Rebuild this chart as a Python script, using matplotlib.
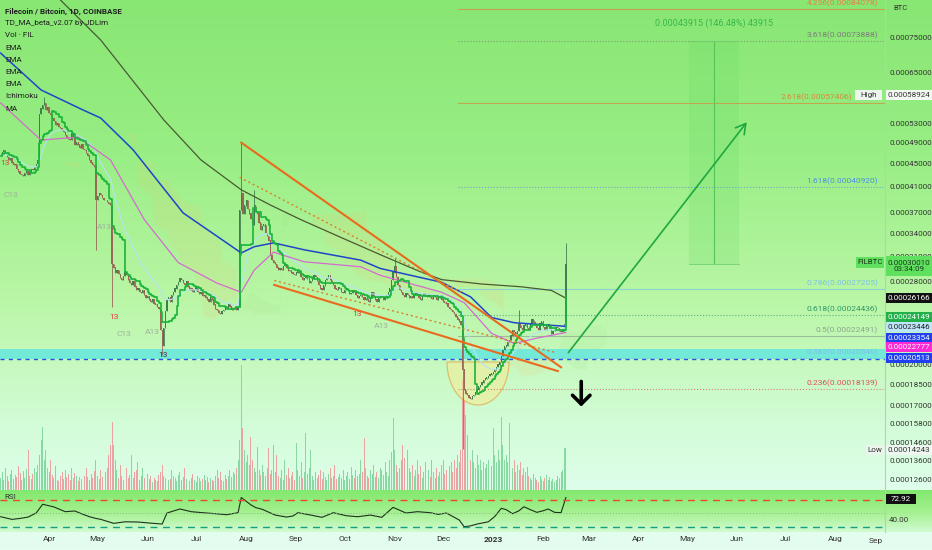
import numpy as np
import pandas as pd
import matplotlib
matplotlib.use('Agg')
import matplotlib.pyplot as plt
import matplotlib.dates as mdates
from matplotlib.patches import Rectangle, Polygon
from matplotlib.ticker import NullLocator

plt.rcParams['font.family'] = ['Roboto', 'DejaVu Sans']

W, H = 932, 550          # figure size in px
PW, PH = 885, 490        # price pane size in px
U = 1e-6                 # price values below are in 1e-6 BTC

start = pd.Timestamp('2022-03-02')

# daily closes (1e-6 BTC)
close = [
    465, 472, 476, 470, 462, 457, 460, 452, 448, 450, 441, 436, 432, 430, 428, 433, 436, 430, 435, 440, 438, 444, 450, 457,
    550, 562, 570, 575, 559, 565, 552, 548, 540, 535, 526, 530, 522, 520, 515, 512, 505, 500, 497, 495, 510, 500, 485, 490,
    486, 480, 486, 478, 476, 470, 465, 457, 452, 448, 445,
    389, 395, 400, 397, 392, 388, 389, 385, 383, 381,
    300, 296, 290, 293, 288, 284, 281, 286, 290, 287, 282, 278, 276, 280, 274, 270, 272, 268, 267, 270,
    265, 262, 264, 260, 258, 260, 256, 255, 252, 250,
    230, 216, 232, 248, 260, 262, 258, 265, 268, 272, 276, 279, 283, 281, 278, 276, 280, 274, 270, 272,
    268, 270, 273, 268, 266, 268, 264, 265, 262, 260, 258, 262, 260, 255, 250, 249, 246, 245, 248, 249,
    252, 250, 255, 253, 249, 250, 251, 249, 252,
    373, 400, 368, 380, 389, 375, 368, 360, 352, 380, 372, 368, 355, 345, 350, 352, 340, 336, 330,
    311, 305, 302, 300, 296, 293, 295, 293, 298, 300, 296, 292, 293, 290, 288, 287, 290, 292, 290, 285,
    281, 284, 287, 283, 278, 280, 283, 287, 285, 280, 276, 272, 270, 275, 281, 284, 287, 282, 279, 276,
    272, 270, 273, 272, 268, 267, 270, 272, 270, 266, 267, 270, 268, 265, 262, 264, 265, 263, 260, 262,
    260, 258, 262, 268, 264, 260, 258, 262, 265, 263, 260, 263, 265, 268, 272, 281, 290,
    298, 285, 276, 270, 268, 265, 263, 267, 265, 262, 264, 262, 265, 268, 266, 262, 260, 264, 267, 265,
    263, 266, 263, 261, 265, 263, 260, 262, 265, 260, 258, 257, 256, 252, 250, 249, 247, 245, 243, 240,
    238, 235,
    196, 181, 178, 177, 175, 174, 176, 177, 179, 181, 183, 184, 186, 188, 189, 190, 191, 192, 193, 194,
    196, 198, 200, 202, 207, 212, 215, 216, 219, 221, 225, 230, 228, 226, 229, 235, 232, 230, 234, 235,
    232, 230, 236, 240, 237, 235, 232, 230, 236, 238, 233, 230, 234, 235, 231, 226, 229, 230, 233, 232,
    229, 228, 231, 235, 300,
]

# long wicks (day index, price)
high_days = [27, 149, 157, 244, 321, 350]
high_vals = [589.24, 490, 405, 308, 249, 327]
low_days = [59, 69, 100, 286]
low_vals = [318, 253, 208, 142.43]

# volume (scaled units)
volume = [
    12, 18, 10, 22, 14, 9, 16, 20, 11, 15, 13, 24, 17, 10, 19, 12, 21, 40, 14, 11,
    16, 22, 18, 25, 35, 50, 63, 30, 40, 22, 18, 30, 15, 12, 24, 10, 9, 14, 18, 11,
    20, 13, 16, 10, 22, 12, 17, 14, 9, 13, 11, 18, 14, 22, 13, 10, 16, 12, 19, 30,
    14, 11, 20, 13, 25, 18, 22, 35, 45, 68, 45, 30, 20, 12, 25, 14, 10, 18, 22, 12,
    15, 35, 12, 18, 20, 28, 10, 14, 22, 12, 9, 16, 11, 14, 8, 12, 10, 9, 15, 18,
    25, 14, 12, 16, 10, 11, 20, 14, 12, 9, 15, 18, 10, 13, 22, 11, 14, 9, 12, 16,
    10, 8, 14, 12, 9, 11, 15, 10, 13, 8, 12, 10, 9, 14, 20, 12, 18, 10, 9, 15,
    11, 14, 20, 13, 18, 16, 22, 30, 50, 125, 62, 40, 28, 35, 25, 53, 30, 22, 18, 43,
    20, 15, 25, 18, 14, 22, 42, 16, 20, 45, 18, 35, 14, 12, 20, 10, 30, 15, 22, 12,
    14, 18, 10, 47, 20, 14, 28, 12, 18, 57, 16, 22, 40, 14, 10, 18, 12, 15, 20, 11,
    18, 13, 10, 16, 22, 12, 14, 25, 11, 13, 16, 12, 20, 10, 14, 18, 11, 23, 15, 12,
    20, 14, 16, 30, 18, 52, 22, 14, 12, 20, 16, 25, 13, 18, 12, 22, 20, 15, 28, 18,
    14, 30, 38, 72, 40, 25, 18, 22, 30, 45, 32, 87, 40, 22, 18, 25, 14, 20, 30, 16,
    24, 12, 18, 28, 15, 20, 13, 30, 18, 12, 22, 14, 18, 25, 30, 16, 20, 53, 24, 28,
    18, 30, 22, 35, 28, 40, 110, 90, 75, 55, 45, 30, 40, 28, 22, 35, 25, 30, 20, 28,
    22, 26, 30, 38, 24, 62, 35, 28, 40, 30, 73, 45, 30, 35, 28, 67, 40, 22, 30, 18,
    25, 20, 28, 15, 22, 18, 23, 14, 12, 10, 16, 12, 10, 8, 14, 11, 9, 12, 15, 10,
    13, 9, 11, 8, 10, 14, 12, 18, 20, 42, 42,
]

# moving averages (day index, price)
ma200_day = [0, 37, 62, 101, 124, 149, 167, 186, 211, 236, 260, 273, 298, 322, 341, 350]
ma200_val = [1109, 871, 741, 537, 457, 405, 381, 359, 334, 311, 291, 282, 277, 274, 270, 261.66]
ema_blue_day = [0, 25, 51, 62, 82, 113, 149, 157, 169, 188, 223, 235, 273, 291, 304, 318, 350]
ema_blue_val = [703, 606, 559, 541, 476, 369, 314, 322, 327, 318, 305, 295, 279, 263, 242, 237, 233.54]
ema_pink_day = [0, 25, 48, 68, 89, 110, 134, 149, 157, 169, 188, 223, 235, 273, 287, 304, 318, 333, 350]
ema_pink_val = [575, 495, 501, 457, 359, 302, 278, 268, 293, 315, 303, 297, 287, 268, 257, 227, 218, 223, 227.77]

# RSI (day index, value)
rsi_day = [0, 7, 12, 17, 22, 26, 33, 40, 46, 50, 55, 59, 62, 70, 77, 85, 93, 100, 103, 111, 118, 125,
           133, 140, 147, 149, 155, 158, 162, 170, 177, 181, 184, 192, 199, 206, 214, 221, 229, 236,
           243, 251, 258, 266, 271, 276, 284, 287, 291, 295, 302, 306, 310, 313, 317, 321, 324, 328,
           332, 336, 339, 343, 347, 350]
rsi_val = [44.5, 40.6, 42, 44, 50, 63, 59, 52, 53, 49, 44.5, 42, 40.6, 34.7, 37, 36.7, 35, 33.7, 50, 56,
           52, 50.5, 49, 47.5, 50.5, 73, 62, 58, 55.5, 47, 44, 45.6, 50.5, 47, 43.6, 50.5, 46, 44.5,
           47, 43.6, 58.4, 50, 52, 50.5, 48, 50, 39.6, 29.7, 31, 33.7, 37, 45, 57, 55, 49, 53.4, 59.3,
           55, 51, 53.4, 56, 51, 50.5, 72.92]

# drawings (day index, price)
trend_upper = [(149, 490), (347, 198)]
trend_lower = [(169.4, 276), (345, 195)]
dotted_upper = [(148, 426), (285, 268)]
dotted_lower = [(169.4, 281), (344, 210)]
arrow_up = [(351.5, 210), (462, 532)]
arrow_down = [(359.5, 187), (359.5, 169)]
support_band = (205.13, 213.5)
measure_days = (426.4, 457.3)
measure_range = (300.10, 739.25)

fib_start_day = 283
fib_ratio = ['4.236', '3.618', '2.618', '1.618', '0.786', '0.618', '0.5', '0.382', '0.236']
fib_price = [840.78, 738.88, 574.06, 409.20, 272.05, 244.36, 224.91, 205.46, 181.39]
fib_color = ['#e0844a', '#7c7c7c', '#d98a3a', '#4f8ee0', '#7cc2ea', '#2f9a68', '#8aa68e', '#7cc2ea', '#e0505a']
fib_style = ['-', ':', '-', ':', '-', ':', '-', ':', ':']

td_day = [2.5, 6.6, 64, 70, 76.5, 94, 100.7, 220.8, 235.7]
td_price = [451, 396, 349, 243, 226, 228, 208, 245, 234]
td_text = ['13', 'C13', 'A13', '13', 'C13', 'A13', '13', '13', 'A13']
td_color = ['#e23c3c', '#9fb09f', '#9fb09f', '#e23c3c', '#9fb09f', '#9fb09f', '#3a3a3a', '#e23c3c', '#9fb09f']

ytick_vals = [750, 650, 530, 490, 450, 410, 370, 340, 310, 280, 200, 185, 170, 158, 146, 136, 126]

legend_lines = ['Filecoin / Bitcoin, 1D, COINBASE', 'TD_MA_beta_v2.07 by JDLim', 'Vol · FIL',
                'EMA', 'EMA', 'EMA', 'EMA', 'Ichimoku', 'MA']

# ---------------- derived series ----------------
c = np.array(close, dtype=float)
n = len(c)
o = np.r_[c[0], c[:-1]]
hi = np.maximum(o, c)
lo = np.minimum(o, c)
hi[high_days] = np.maximum(hi[high_days], high_vals)
lo[low_days] = np.minimum(lo[low_days], low_vals)
x0 = mdates.date2num(start)
xd = x0 + np.arange(n)
up = c >= o

cs = pd.Series(c)
ema21 = cs.ewm(span=21, adjust=False).mean().values
step_line = ((cs.rolling(9, min_periods=1).max() + cs.rolling(9, min_periods=1).min()) / 2).values
hs, ls = pd.Series(hi), pd.Series(lo)
tenkan = (hs.rolling(9, min_periods=1).max() + ls.rolling(9, min_periods=1).min()) / 2
kijun = (hs.rolling(26, min_periods=1).max() + ls.rolling(26, min_periods=1).min()) / 2
span_a = ((tenkan + kijun) / 2).values
span_b = ((hs.rolling(52, min_periods=1).max() + ls.rolling(52, min_periods=1).min()) / 2).values

# ---------------- figure ----------------
fig = plt.figure(figsize=(W / 100, H / 100), dpi=100)


def fx(px):
    return px / W


def fy(py):
    return 1 - py / H


# background gradient (whole figure)
rows = np.arange(H)
stops_y = [0, 150, 300, 420, 489, 490, 512, 531, 532, 549]
stops_c = np.array([
    (136, 230, 115), (152, 238, 132), (186, 246, 166), (210, 252, 214), (222, 254, 234),
    (130, 232, 110), (165, 241, 145), (208, 250, 208), (226, 252, 238), (228, 253, 240)
]) / 255.0
grad = np.stack([np.interp(rows, stops_y, stops_c[:, k]) for k in range(3)], axis=-1)[:, None, :]
bg = fig.add_axes([0, 0, 1, 1])
bg.imshow(grad, aspect='auto', extent=[0, 1, 0, 1], origin='upper')
bg.set_axis_off()
bg.set_zorder(-10)

ax = fig.add_axes([0, fy(PH), fx(PW), PH / H])
rax = fig.add_axes([0, fy(532), fx(PW), 42 / H], sharex=ax)
vax = ax.twinx()
ax.set_zorder(3)
vax.set_zorder(2)
rax.set_zorder(3)
for a in (ax, vax, rax):
    a.patch.set_visible(False)

ax.set_yscale('log')
xl = x0 - 0.4
xr = xl + PW / 1.615
ax.set_xlim(xl, xr)
ax.set_ylim(120.7 * U, 871 * U)

# volume
vcol = np.where(up, '#86d9a0', '#eaa3a3')
vax.bar(xd, volume, width=0.6, color=vcol, linewidth=0)
vax.set_ylim(0, PH)
vax.set_yticks([])
for s in vax.spines.values():
    s.set_visible(False)

# ichimoku cloud (shifted 26 days forward)
xc = xd + 26
ax.fill_between(xc, span_a * U, span_b * U, where=span_a < span_b, color='#f2c46d', alpha=0.14,
                linewidth=0, zorder=1)
ax.fill_between(xc, span_a * U, span_b * U, where=span_a >= span_b, color='#9fe08a', alpha=0.14,
                linewidth=0, zorder=1)

# cup drawing (half ellipse, px geometry)
t = np.linspace(np.pi, 2 * np.pi, 60)
cup_px = np.c_[478 + 31 * np.cos(t), 362 - 43 * np.sin(t)]
cup = Polygon(np.c_[cup_px[:, 0] / PW, 1 - cup_px[:, 1] / PH], closed=True, transform=ax.transAxes,
              facecolor='#f3ec98', edgecolor='#e39a3a', alpha=0.6, lw=0.9, zorder=1.5)
ax.add_patch(cup)

# support band + dashed line
ax.axhspan(support_band[0] * U, support_band[1] * U, color='#5fe6df', alpha=0.8, lw=0, zorder=1.8)
ax.axhline(support_band[0] * U, color='#2a50e0', lw=1.0, dashes=(3, 3), zorder=2)

# fib levels
for r, p, col, ls_ in zip(fib_ratio, fib_price, fib_color, fib_style):
    ax.plot([x0 + fib_start_day, xr], [p * U, p * U], color=col, lw=0.8, ls=ls_, alpha=0.7, zorder=2)
    off = -33 if r == '2.618' else -7
    ax.annotate(f'{r}({p * U:.8f})', xy=(xr, p * U), xytext=(off, 2), textcoords='offset pixels',
                ha='right', va='bottom', fontsize=6, color=col, zorder=2)

# measurement box
mx0, mx1 = x0 + measure_days[0], x0 + measure_days[1]
ax.add_patch(Rectangle((mx0, measure_range[0] * U), mx1 - mx0, (measure_range[1] - measure_range[0]) * U,
                       facecolor='#5fd45f', alpha=0.18, lw=0, zorder=1.6))
mxc = (mx0 + mx1) / 2
ax.plot([mxc, mxc], [measure_range[0] * U, measure_range[1] * U], color='#56c456', lw=0.8, zorder=2)
ax.plot([mx0, mx1], [measure_range[0] * U] * 2, color='#6fcf6f', lw=0.6, zorder=2)
ax.plot([mx0, mx1], [measure_range[1] * U] * 2, color='#6fcf6f', lw=0.6, zorder=2)
ax.annotate('0.00043915 (146.48%) 43915', xy=(mxc, measure_range[1] * U), xytext=(0, 13),
            textcoords='offset pixels', ha='center', va='bottom', fontsize=6.5, color='#36b84a')

# moving averages
ax.plot(x0 + np.array(ma200_day), np.array(ma200_val) * U, color='#4a5a32', lw=0.9, zorder=3.5)
ax.plot(x0 + np.array(ema_blue_day), np.array(ema_blue_val) * U, color='#2046c8', lw=1.1, zorder=3.5)
ax.plot(x0 + np.array(ema_pink_day), np.array(ema_pink_val) * U, color='#d66ad0', lw=0.9, zorder=3.5)
ax.plot(xd, ema21 * U, color='#b4e4f4', lw=0.8, zorder=3.4)
ax.plot(xd, step_line * U, color='#19b43a', lw=1.2, drawstyle='steps-post', zorder=3.6)

# candles
ccol = np.where(up, '#3f7f50', '#9a6656')
ax.vlines(xd, lo * U, hi * U, colors=ccol, lw=0.6, zorder=3)
ax.bar(xd, (np.abs(c - o) + 0.4) * U, bottom=np.minimum(o, c) * U, width=0.75, color=ccol,
       linewidth=0, zorder=3)

# trend lines
for seg, kw in ((trend_upper, dict(color='#ea6a1e', lw=1.5)),
                (trend_lower, dict(color='#ea6a1e', lw=1.5)),
                (dotted_upper, dict(color='#d9822b', lw=1.0, ls=(0, (1.5, 2)))),
                (dotted_lower, dict(color='#d9822b', lw=1.0, ls=(0, (1.5, 2))))):
    ax.plot([x0 + seg[0][0], x0 + seg[1][0]], [seg[0][1] * U, seg[1][1] * U], zorder=4, **kw)

# arrows
ax.annotate('', xy=(x0 + arrow_up[1][0], arrow_up[1][1] * U), xytext=(x0 + arrow_up[0][0], arrow_up[0][1] * U),
            arrowprops=dict(arrowstyle='->,head_length=0.7,head_width=0.4', color='#1fa83f', lw=1.2,
                            shrinkA=0, shrinkB=0), zorder=5)
ax.annotate('', xy=(x0 + arrow_down[1][0], arrow_down[1][1] * U),
            xytext=(x0 + arrow_down[0][0], arrow_down[0][1] * U),
            arrowprops=dict(arrowstyle='->,head_length=0.45,head_width=0.45', color='black', lw=2.6,
                            shrinkA=0, shrinkB=0, mutation_scale=14), zorder=5)

# TD sequential marks
for d, p, s, col in zip(td_day, td_price, td_text, td_color):
    ax.text(x0 + d, p * U, s, fontsize=6, color=col, ha='center', va='center', zorder=4)

# price axis
ax.yaxis.tick_right()
ax.set_yticks([v * U for v in ytick_vals])
ax.set_yticklabels([f'{v * U:.8f}' for v in ytick_vals])
ax.yaxis.set_minor_locator(NullLocator())
ax.tick_params(axis='y', length=0, pad=3, labelsize=5.8, labelcolor='#333333')
ax.tick_params(axis='x', length=0, labelbottom=False)
for name, s in ax.spines.items():
    s.set_visible(name == 'right')
ax.spines['right'].set_color('#b9cdb9')
ax.spines['right'].set_linewidth(0.8)

# RSI pane
rax.plot(x0 + np.array(rsi_day), rsi_val, color='#1c331c', lw=0.8)
rax.axhline(70, color='#ee4a2a', lw=1.0, dashes=(5, 4))
rax.axhline(30, color='#13a07e', lw=1.0, dashes=(5, 4))
rax.axhline(50, color='#8fb48f', lw=0.7, ls=(0, (1, 2)))
rax.set_ylim(21.9, 84.1)
rax.yaxis.tick_right()
rax.set_yticks([40])
rax.set_yticklabels(['40.00'])
rax.tick_params(axis='y', length=0, pad=3, labelsize=5.8, labelcolor='#333333')
months = pd.date_range('2022-04-01', '2023-08-01', freq='MS')
rax.set_xticks(mdates.date2num(months))
rax.set_xticklabels(['2023' if m.month == 1 else m.strftime('%b') for m in months])
rax.tick_params(axis='x', length=0, pad=3, labelsize=6, labelcolor='#333333')
for lab, m in zip(rax.get_xticklabels(), months):
    if m.month == 1:
        lab.set_fontweight('bold')
for name, s in rax.spines.items():
    s.set_visible(name == 'right')
rax.spines['right'].set_color('#b9cdb9')
rax.spines['right'].set_linewidth(0.8)
fig.text(fx(876), fy(541), 'Sep', fontsize=6, color='#333333', ha='center', va='center')
fig.text(fx(4), fy(497), 'RSI', fontsize=5.8, color='#333333', ha='left', va='center')

# legend text
for i, s in enumerate(legend_lines):
    fig.text(fx(5), fy(11 + 12.2 * i), s, fontsize=5.8, color='#1e1e1e', ha='left', va='center',
             fontweight='bold' if i == 0 else 'normal')
fig.text(fx(893), fy(8), 'BTC', fontsize=5.5, color='#333333', ha='left', va='center')


# price-axis tags
def tag(x, y, w, h, txt, face, fg, size=5.8):
    fig.add_artist(Rectangle((fx(x), fy(y + h / 2)), w / W, h / H, transform=fig.transFigure,
                             facecolor=face, edgecolor='none', zorder=20))
    fig.text(fx(x + w / 2), fy(y), txt, fontsize=size, color=fg, ha='center', va='center', zorder=21,
             linespacing=1.0)


tag(886, 95, 46, 10, '0.00058924', '#f3f8f3', '#333333')
tag(855, 95, 27, 10, 'High', '#eef5ee', '#333333')
tag(886, 266, 46, 20, '0.00030010\n03:34:09', '#5fe05f', '#1b3a1b')
tag(856, 262, 28, 11, 'FILBTC', '#5fe05f', '#1b3a1b')
tag(886, 298, 46, 10, '0.00026166', '#111111', 'white')
tag(886, 317, 46, 10, '0.00024149', '#22b04a', 'white')
tag(886, 327, 46, 10, '0.00023446', '#bde7f8', '#222222')
tag(886, 338, 46, 10, '0.00023354', '#1f3ff0', 'white')
tag(886, 347, 46, 10, '0.00022777', '#ff2ad4', 'white')
tag(886, 358, 46, 10, '0.00020513', '#1f3ff0', 'white')
tag(886, 450, 46, 10, '0.00014243', '#eef7f1', '#333333')
tag(866, 450, 18, 10, 'Low', '#e9f5ed', '#333333')
tag(886, 499, 30, 10, '72.92', '#111111', 'white')

fig.savefig('out.png', dpi=100)
